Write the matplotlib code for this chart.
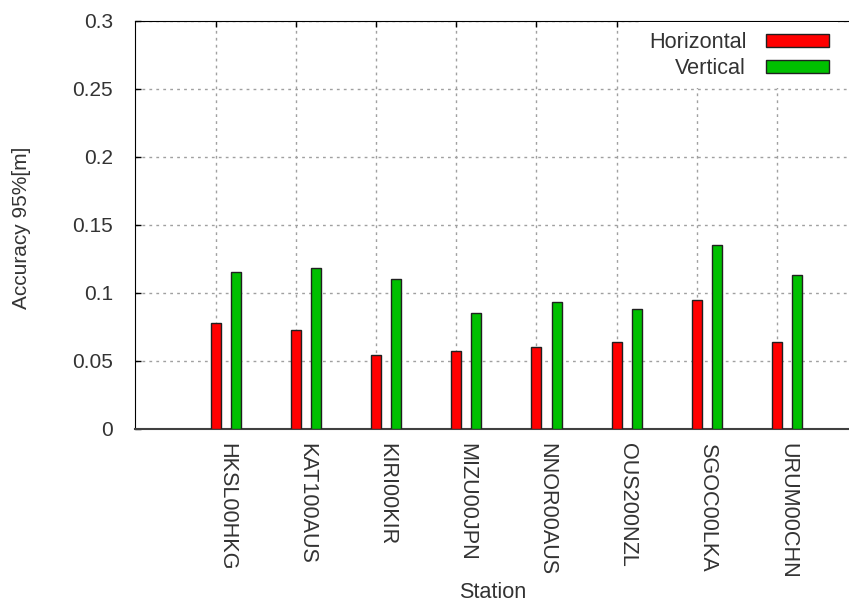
import matplotlib
matplotlib.use("Agg")
import matplotlib.pyplot as plt
import numpy as np

plt.rcParams["font.family"] = ["Liberation Sans", "DejaVu Sans"]

# accuracy (95%) per station, metres
stations = ["HKSL00HKG", "KAT100AUS", "KIRI00KIR", "MIZU00JPN",
            "NNOR00AUS", "OUS200NZL", "SGOC00LKA", "URUM00CHN"]
horizontal = [0.078, 0.073, 0.054, 0.057, 0.060, 0.064, 0.095, 0.064]
vertical = [0.115, 0.118, 0.110, 0.085, 0.093, 0.088, 0.135, 0.113]

W, H = 849, 606
fig = plt.figure(figsize=(W / 100, H / 100), dpi=100)
# axes box in pixels: left 135, right 849, top 20.5, bottom 429
ax = fig.add_axes([135 / W, 1 - 429 / H, 714 / W, (429 - 20.5) / H])

x = np.arange(len(stations))
bw = 0.125
ax.bar(x, horizontal, bw, color="#ff0000", edgecolor="#202020", linewidth=1,
       label="Horizontal", zorder=3)
ax.bar(x + 0.25, vertical, bw, color="#00c000", edgecolor="#202020", linewidth=1,
       label="Vertical", zorder=3)

ax.set_xlim(-1.01, 7.9)
ax.set_ylim(0, 0.3)
ax.set_yticks(np.arange(0, 0.301, 0.05))
ax.set_yticklabels(["0", "0.05", "0.1", "0.15", "0.2", "0.25", "0.3"])
ax.set_xticks(x)
ax.set_xticklabels(stations, rotation=-90, ha="left", va="top", fontsize=15.6)

ax.tick_params(axis="both", direction="in", length=4.5, width=1, labelsize=15,
               colors="black")
ax.tick_params(axis="x", top=True, pad=10, labelsize=15.6)
ax.tick_params(axis="y", pad=16)
for lbl in ax.get_yticklabels() + ax.get_xticklabels():
    lbl.set_color("#333333")

ax.grid(True, color="#a0a0a0", linestyle=(0, (2, 3)), linewidth=1, zorder=0)
ax.set_axisbelow(True)

ax.spines["right"].set_visible(False)
ax.spines["left"].set_color("black")
ax.spines["top"].set_color("black")
ax.spines["bottom"].set_color("#404040")
ax.spines["bottom"].set_linewidth(1.5)

leg = ax.legend(loc="upper right", bbox_to_anchor=(1.0 - 0.0028, 1.0 + 0.017),
                fontsize=15.6, markerfirst=False, frameon=True, fancybox=False,
                facecolor="white", edgecolor="none", framealpha=1,
                handlelength=2.9, handleheight=0.54, handletextpad=0.9,
                labelspacing=0.22, borderpad=0.45, borderaxespad=0.4)
leg.set_zorder(5)
for t in leg.get_texts():
    t.set_color("#333333")

fig.text(22 / W, 1 - 228 / H, "Accuracy 95%[m]", rotation=90, ha="center",
         va="center", fontsize=15, color="#333333")
fig.text(493 / W, 1 - 593 / H, "Station", ha="center", va="center",
         fontsize=15.6, color="#333333")

fig.savefig("out.png", dpi=100)
